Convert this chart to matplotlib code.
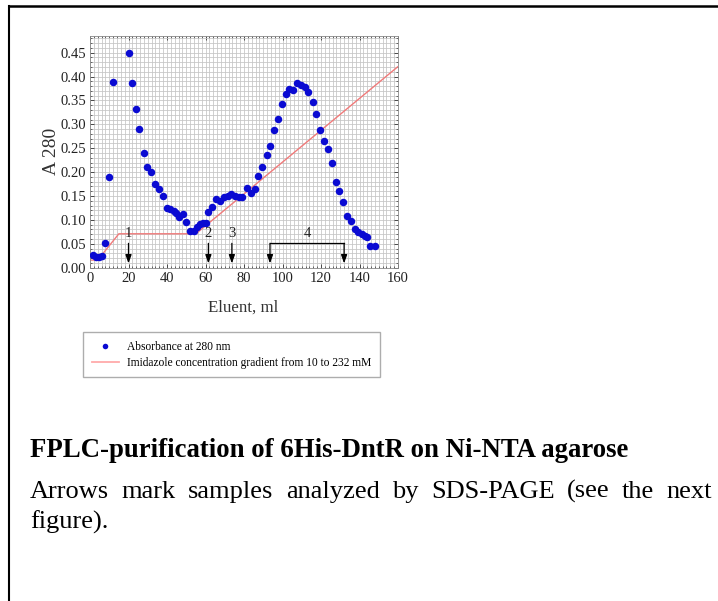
import matplotlib
matplotlib.use("Agg")
import matplotlib.pyplot as plt
from matplotlib.lines import Line2D
from matplotlib.ticker import MultipleLocator
import numpy as np

plt.rcParams['font.family'] = ['Liberation Serif', 'DejaVu Serif']

# ---- data ----
eluent_ml = [1.5, 3, 4.5, 6, 8, 10, 12, 20, 22, 24, 25.6, 27.9, 29.8, 31.8, 33.9, 35.8,
             37.7, 39.8, 41.7, 43.4, 44.5, 46.4, 48.1, 49.8, 51.7, 53.8, 55.4, 57.1, 58.8,
             60, 61.4, 63.5, 65.6, 67.5, 69.4, 71.5, 73.4, 75.4, 77.3, 79.2, 81.7, 83.6,
             85.6, 87.5, 89.6, 91.7, 93.6, 95.7, 97.8, 99.7, 101.6, 103.5, 105.5, 107.6,
             109.5, 111.6, 113.5, 115.6, 117.6, 119.6, 121.6, 123.5, 125.6, 127.7, 129.6,
             131.5, 133.6, 135.6, 137.5, 139.4, 141.2, 142.6, 144, 145.3, 147.8]
a280 = [0.027, 0.023, 0.022, 0.025, 0.051, 0.190, 0.388, 0.450, 0.387, 0.333, 0.291,
        0.241, 0.211, 0.201, 0.176, 0.165, 0.151, 0.126, 0.123, 0.119, 0.115, 0.106,
        0.112, 0.096, 0.077, 0.077, 0.086, 0.091, 0.094, 0.094, 0.117, 0.127, 0.143,
        0.140, 0.147, 0.151, 0.154, 0.151, 0.147, 0.149, 0.166, 0.156, 0.165, 0.192,
        0.211, 0.236, 0.254, 0.289, 0.312, 0.343, 0.363, 0.374, 0.373, 0.386, 0.382,
        0.378, 0.368, 0.347, 0.322, 0.289, 0.265, 0.248, 0.219, 0.179, 0.160, 0.137,
        0.109, 0.098, 0.080, 0.075, 0.070, 0.067, 0.064, 0.046, 0.046]

gradient_x = [0, 4, 15, 55, 160]
gradient_y = [0.016, 0.016, 0.071, 0.071, 0.421]

arrow_x = [20, 61.5, 73.7]
arrow_labels = ["1", "2", "3"]
bracket_x = [93.5, 132]
bracket_label = "4"

xticks = [0, 20, 40, 60, 80, 100, 120, 140, 160]
yticks = [0.00, 0.05, 0.10, 0.15, 0.20, 0.25, 0.30, 0.35, 0.40, 0.45]

W, H = 718, 601
fig = plt.figure(figsize=(W / 100, H / 100), dpi=100)

ax = fig.add_axes([90 / W, 1 - 267.7 / H, (398 - 90) / W, (267.7 - 36) / H])
ax.set_xlim(0, 160)
ax.set_ylim(0, 0.485)
ax.set_xticks(xticks)
ax.set_yticks(yticks)
ax.set_yticklabels([f"{v:.2f}" for v in yticks])
ax.xaxis.set_minor_locator(MultipleLocator(2))
ax.yaxis.set_minor_locator(MultipleLocator(0.01))
ax.grid(which='both', color='#c4c4c4', linewidth=0.55)
ax.set_axisbelow(True)
ax.tick_params(which='both', direction='in', top=True, right=True, labelsize=10.5,
               colors='#333333', labelcolor='#222222')
ax.tick_params(which='major', length=3, width=0.6, pad=3)
ax.tick_params(which='minor', length=1.5, width=0.5)
for s in ax.spines.values():
    s.set_color('#888888')
    s.set_linewidth(0.6)

ax.plot(gradient_x, gradient_y, color='#f07a7a', linewidth=1.0, zorder=2)
ax.plot(eluent_ml, a280, 'o', color='#0a0ad2', markersize=5.4, markeredgewidth=0, zorder=3)

arrow_kw = dict(arrowstyle='-|>,head_length=0.5,head_width=0.18', color='black', lw=0.9,
                shrinkA=0, shrinkB=0)
for xv, lab in zip(arrow_x, arrow_labels):
    ax.annotate('', xy=(xv, 0.009), xytext=(xv, 0.051), arrowprops=arrow_kw, zorder=4)
    ax.text(xv, 0.072, lab, ha='center', va='center', fontsize=10.5, color='#222222')
ax.plot(bracket_x, [0.051, 0.051], color='black', lw=0.9, zorder=4)
for xv in bracket_x:
    ax.annotate('', xy=(xv, 0.009), xytext=(xv, 0.051), arrowprops=arrow_kw, zorder=4)
ax.text(np.mean(bracket_x), 0.072, bracket_label, ha='center', va='center', fontsize=10.5,
        color='#222222')

ax.set_ylabel('A 280', fontsize=14, color='#333333')
ax.yaxis.set_label_coords((60 - 90) / (398 - 90), 0.5)
fig.text(243 / W, 1 - 308 / H, 'Eluent, ml', ha='center', va='center', fontsize=12.2,
         color='#333333')

# legend
leg = fig.legend(handles=[Line2D([], [], ls='none', marker='o', color='#0a0ad2',
                                 markersize=4, markeredgewidth=0),
                          Line2D([], [], color='#ffaaaa', lw=1.3)],
                 labels=['Absorbance at 280 nm',
                         'Imidazole concentration gradient from 10 to 232 mM'],
                 loc='upper left', bbox_to_anchor=(83 / W, 1 - 332 / H),
                 prop={'size': 8.3}, frameon=True, fancybox=False, handlelength=2.4,
                 handletextpad=0.7, borderpad=0.75, labelspacing=0.35, borderaxespad=0)
leg.get_frame().set_edgecolor('#999999')
leg.get_frame().set_linewidth(1.0)

# outer border
fig.add_artist(Line2D([8.5 / W, 8.5 / W], [0, 1 - 5.5 / H], color='black', lw=1.5,
                      transform=fig.transFigure))
fig.add_artist(Line2D([8.5 / W, 1], [1 - 5.5 / H, 1 - 5.5 / H], color='black', lw=1.8,
                      transform=fig.transFigure))

# captions
fig.text(30 / W, 1 - 457 / H, 'FPLC-purification of 6His-DntR on Ni-NTA agarose',
         fontsize=19.3, fontweight='bold', ha='left', va='baseline')

line1 = 'Arrows mark samples analyzed by SDS-PAGE (see the next'.split()
x0, x1 = 30, 712
renderer = fig.canvas.get_renderer()
words = []
for w in line1:
    t = fig.text(0, 1 - 498 / H, w, fontsize=19, ha='left', va='baseline')
    words.append(t)
widths = [t.get_window_extent(renderer).width for t in words]
gap = (x1 - x0 - sum(widths)) / (len(words) - 1)
xpos = x0
for t, wd in zip(words, widths):
    t.set_x(xpos / W)
    xpos += wd + gap
fig.text(30 / W, 1 - 529 / H, 'figure).', fontsize=19, ha='left', va='baseline')

fig.savefig('out.png', dpi=100)
